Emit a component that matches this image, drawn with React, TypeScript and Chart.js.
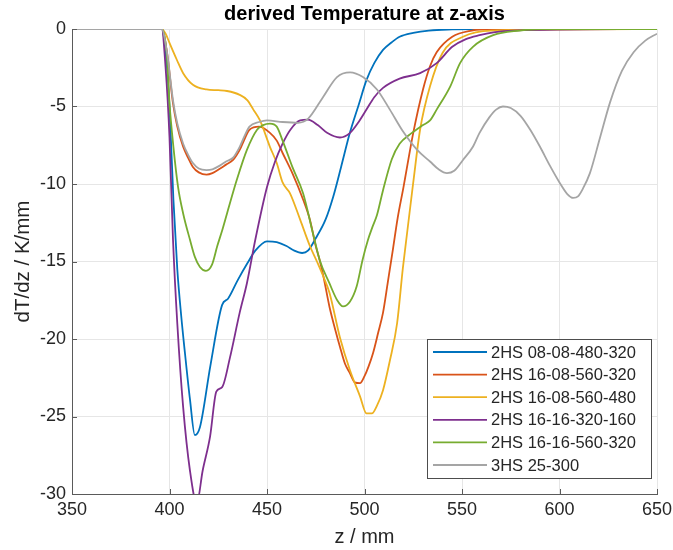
import React, { useEffect, useRef } from "react";
import { Chart, registerables } from "chart.js";

Chart.register(...registerables);

const chartTitle = "derived Temperature at z-axis";
const xTitle = "z / mm";
const yTitle = "dT/dz / K/mm";
const xTicks = [350, 400, 450, 500, 550, 600, 650];
const yTicks = [0, -5, -10, -15, -20, -25, -30];

const seriesLabels = [
  "2HS 08-08-480-320",
  "2HS 16-08-560-320",
  "2HS 16-08-560-480",
  "2HS 16-16-320-160",
  "2HS 16-16-560-320",
  "3HS 25-300",
];
const seriesColors = ["#0072BD", "#D95319", "#EDB120", "#7E2F8E", "#77AC30", "#A5A5A5"];

const blueZ = [350, 396, 398, 400, 402, 404, 406, 408, 410.5, 413, 415.6, 421, 427, 430, 435, 440, 444, 450, 455, 460, 464, 468, 471, 475, 480, 484, 488, 492.5, 497, 501, 505, 509.5, 514, 518, 525, 533, 545, 560, 650];
const blueT = [0, 0, -1.5, -5, -11, -15.5, -18.5, -21, -23.9, -26.2, -25.7, -21.7, -17.8, -17.4, -16.2, -15.1, -14.3, -13.7, -13.75, -14.0, -14.3, -14.45, -14.3, -13.5, -12.3, -10.8, -8.9, -6.7, -4.9, -3.3, -2.2, -1.35, -0.85, -0.5, -0.25, -0.1, -0.03, 0, 0];

const orangeZ = [350, 396, 398.7, 401.8, 404, 407, 409.5, 412, 415, 419, 422, 426, 429, 432.6, 436, 438.5, 441, 446, 451.5, 455, 458, 463, 468.5, 472, 475, 477, 479, 482, 485, 487.4, 490, 492.5, 495, 497.7, 500, 502, 504.4, 507, 509.5, 512, 514.6, 517, 520, 525, 530, 533.6, 537, 545, 555, 565, 650];
const orangeT = [0, 0, -1.5, -4.8, -6.3, -7.6, -8.3, -8.9, -9.25, -9.4, -9.3, -9.0, -8.75, -8.45, -7.8, -7.1, -6.5, -6.3, -6.7, -7.2, -8.0, -9.3, -11.0, -12.3, -14.0, -14.9, -16.0, -17.9, -19.4, -20.5, -21.6, -22.2, -22.8, -22.85, -22.4, -21.8, -20.9, -19.6, -18.3, -16.3, -14.2, -12.2, -10.2, -6.7, -3.9, -2.4, -1.5, -0.5, -0.1, 0, 0];

const yellowZ = [350, 396, 398, 400, 403.8, 407, 412, 419, 425, 429.5, 436, 440, 443, 446.4, 451.5, 455, 458, 461.8, 467, 472, 475.6, 479, 482, 487.4, 492.5, 497.7, 501, 503.8, 506.4, 509.5, 513, 516.7, 519.7, 522, 525, 528.5, 533.6, 540, 550.5, 565, 650];
const yellowT = [0, 0, -0.3, -0.9, -2.0, -2.85, -3.6, -3.9, -3.95, -4.0, -4.25, -4.6, -5.2, -5.9, -7.6, -8.65, -9.9, -10.6, -12.3, -14.0, -15.0, -16.0, -17.0, -19.9, -22.0, -23.7, -24.8, -24.8, -24.3, -23.3, -21.4, -19.0, -15.4, -13.0, -9.9, -6.5, -3.7, -1.55, -0.5, -0.1, 0];

const purpleZ = [350, 396, 398, 400, 401.8, 404, 407, 410.5, 414, 417, 420.8, 424, 427, 431, 436, 439.7, 444, 450, 454, 458, 462, 467, 471, 476, 480.8, 487.4, 492.6, 497, 501, 505, 509.5, 518, 528.5, 537, 545, 552, 559, 567, 576, 650];
const purpleT = [0, 0, -2.5, -7, -13.6, -19, -24.4, -28.5, -30.6, -28.5, -26.3, -23.4, -23.1, -21.2, -18.3, -16.4, -13.6, -10.2, -8.6, -7.4, -6.5, -5.9, -5.85, -6.2, -6.7, -7.0, -6.7, -6.0, -5.2, -4.4, -3.8, -3.2, -2.85, -2.2, -1.15, -0.65, -0.4, -0.2, -0.1, 0];

const greenZ = [350, 396, 398.5, 400, 402, 404.4, 407, 410.5, 413, 415.6, 418.7, 421.8, 424.5, 427, 429.5, 434.6, 439.7, 444.9, 448, 451.5, 455, 458, 463, 468.5, 473.6, 477, 482, 486, 489, 492.5, 496, 499, 501.8, 504, 506.4, 509.5, 514, 518, 523.3, 530, 533.6, 537, 544, 549, 555.6, 566, 579.7, 590, 650];
const greenT = [0, 0, -1.5, -4.8, -7.6, -10.2, -11.9, -13.6, -14.7, -15.35, -15.6, -15.2, -14.0, -13.0, -11.9, -9.7, -7.8, -6.5, -6.2, -6.1, -6.3, -7.2, -8.9, -10.6, -13.2, -14.9, -16.4, -17.5, -17.9, -17.6, -16.6, -14.9, -13.6, -12.8, -12.0, -10.4, -8.4, -7.4, -6.8, -6.2, -5.9, -5.2, -3.7, -2.2, -1.15, -0.4, -0.1, 0, 0];

const grayZ = [350, 396, 398.7, 401.8, 404, 407, 409.5, 412, 415, 419, 422, 426, 429, 432.6, 436, 438.5, 441, 446, 450, 458, 466, 471, 478.7, 485.9, 492.6, 499.2, 506.4, 513, 519.7, 527, 533.6, 538, 542.3, 546, 550.5, 555.6, 559, 564, 567.5, 571, 575, 580, 585, 590, 595, 600, 604, 607, 609.5, 612, 615.6, 620.8, 626, 632, 638, 644, 650];
const grayT = [0, 0, -1.5, -4.6, -6.1, -7.4, -8.1, -8.65, -9.0, -9.1, -9.05, -8.8, -8.55, -8.3, -7.6, -6.9, -6.3, -6.0, -5.9, -6.0, -6.05, -5.8, -4.4, -3.1, -2.8, -3.1, -3.9, -5.2, -6.6, -7.8, -8.55, -9.05, -9.3, -9.15, -8.45, -7.6, -6.7, -5.7, -5.2, -5.0, -5.1, -5.6, -6.5, -7.6, -8.8, -9.9, -10.65, -10.9, -10.8, -10.3, -9.3, -7.0, -4.7, -2.7, -1.5, -0.75, -0.3];

const seriesZ = [blueZ, orangeZ, yellowZ, purpleZ, greenZ, grayZ];
const seriesT = [blueT, orangeT, yellowT, purpleT, greenT, grayT];

const FONT = "'Liberation Sans', Arial, Helvetica, sans-serif";
const AXIS_COLOR = "#5a5a5a";
const TEXT_COLOR = "#262626";
const GRID_COLOR = "#e6e6e6";

const overlay = {
  id: "overlay",
  afterDraw(chart: any) {
    const { ctx, chartArea } = chart;
    const xs = chart.scales.x;
    const ys = chart.scales.y;
    ctx.save();
    // inward ticks
    ctx.strokeStyle = AXIS_COLOR;
    ctx.lineWidth = 1;
    ctx.beginPath();
    xTicks.forEach((v) => {
      const px = Math.round(xs.getPixelForValue(v)) + 0.5;
      ctx.moveTo(px, chartArea.bottom);
      ctx.lineTo(px, chartArea.bottom - 5);
    });
    yTicks.forEach((v) => {
      const py = Math.round(ys.getPixelForValue(v)) + 0.5;
      ctx.moveTo(chartArea.left, py);
      ctx.lineTo(chartArea.left + 5, py);
    });
    ctx.stroke();

    // title
    ctx.fillStyle = "#000";
    ctx.font = `bold 20px ${FONT}`;
    ctx.textAlign = "center";
    ctx.textBaseline = "middle";
    ctx.fillText(chartTitle, (chartArea.left + chartArea.right) / 2, 14);

    // legend
    const ds = chart.data.datasets;
    const bw = 224;
    const bh = 139;
    const bx = chartArea.right - 6 - bw;
    const by = chartArea.bottom - 16 - bh;
    ctx.fillStyle = "#fff";
    ctx.fillRect(bx, by, bw, bh);
    ctx.strokeStyle = "#4d4d4d";
    ctx.lineWidth = 1;
    ctx.strokeRect(Math.round(bx) + 0.5, Math.round(by) + 0.5, bw, bh);
    ctx.font = `16.5px ${FONT}`;
    ctx.textAlign = "left";
    ctx.textBaseline = "middle";
    const rowH = 22.6;
    ds.forEach((d: any, i: number) => {
      const cy = by + 13 + i * rowH;
      ctx.strokeStyle = d.borderColor;
      ctx.lineWidth = 1.8;
      ctx.beginPath();
      ctx.moveTo(bx + 6, cy);
      ctx.lineTo(bx + 60, cy);
      ctx.stroke();
      ctx.fillStyle = TEXT_COLOR;
      ctx.fillText(d.label, bx + 64, cy + 1);
    });
    ctx.restore();
  },
};

export default function App() {
  const ref = useRef<HTMLCanvasElement>(null);
  useEffect(() => {
    const prev = document.body.style.margin;
    document.body.style.margin = "0";
    const n = seriesLabels.length;
    const chart = new Chart(ref.current as HTMLCanvasElement, {
      type: "line",
      data: {
        datasets: seriesLabels.map((label, i) => ({
          label,
          data: seriesZ[i].map((z, j) => ({ x: z, y: seriesT[i][j] })),
          borderColor: seriesColors[i],
          backgroundColor: seriesColors[i],
          borderWidth: 1.8,
          pointRadius: 0,
          fill: false,
          cubicInterpolationMode: "monotone",
          order: n - i,
        })),
      },
      options: {
        responsive: false,
        animation: false,
        layout: { padding: { left: 0, right: 16, top: 29, bottom: 0 } },
        plugins: {
          legend: { display: false },
          tooltip: { enabled: false },
          title: { display: false },
        },
        scales: {
          x: {
            type: "linear",
            min: 350,
            max: 650,
            afterBuildTicks: (s: any) => {
              s.ticks = xTicks.map((v) => ({ value: v }));
            },
            afterFit: (s: any) => {
              s.height = 56;
              s.paddingLeft = 0;
              s.paddingRight = 0;
            },
            grid: { color: GRID_COLOR, drawTicks: false },
            border: { color: AXIS_COLOR, width: 1 },
            ticks: { font: { family: FONT, size: 18 }, color: TEXT_COLOR, padding: 5, maxRotation: 0 },
            title: {
              display: true,
              text: xTitle,
              font: { family: FONT, size: 20 },
              color: TEXT_COLOR,
              padding: { top: 0, bottom: 1 },
            },
          },
          y: {
            type: "linear",
            min: -30,
            max: 0,
            afterBuildTicks: (s: any) => {
              s.ticks = yTicks.map((v) => ({ value: v }));
            },
            afterFit: (s: any) => {
              s.width = 72;
              s.paddingTop = 0;
              s.paddingBottom = 0;
            },
            grid: { color: GRID_COLOR, drawTicks: false },
            border: { color: AXIS_COLOR, width: 1 },
            ticks: { font: { family: FONT, size: 18 }, color: TEXT_COLOR, padding: 6 },
            title: {
              display: true,
              text: yTitle,
              font: { family: FONT, size: 20.5 },
              color: TEXT_COLOR,
              padding: { top: 11, bottom: 0 },
            },
          },
        },
      },
      plugins: [overlay],
    } as any);
    return () => {
      chart.destroy();
      document.body.style.margin = prev;
    };
  }, []);
  return (
    <div style={{ width: 673, height: 550 }}>
      <canvas ref={ref} width={673} height={550} style={{ display: "block" }} />
    </div>
  );
}
